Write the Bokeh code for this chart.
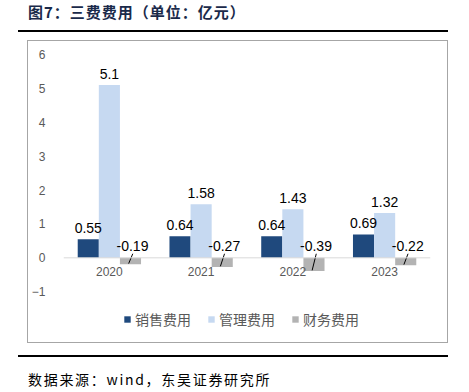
from bokeh.plotting import figure
from bokeh.models import (ColumnDataSource, Range1d, Legend, LegendItem,
                          Div, LabelSet, FixedTicker, Span)
from bokeh.transform import dodge
from bokeh.layouts import column
from bokeh.embed import file_html
from bokeh.resources import INLINE
from bokeh.core.properties import value

# ---- data ----
years = ["2020", "2021", "2022", "2023"]
sales = [0.55, 0.64, 0.64, 0.69]        # 销售费用
admin = [5.1, 1.58, 1.43, 1.32]         # 管理费用
finance = [-0.19, -0.27, -0.39, -0.22]  # 财务费用
series_names = ["销售费用", "管理费用", "财务费用"]
y_ticks = [-1, 0, 1, 2, 3, 4, 5, 6]
title_text = "图7：三费费用（单位：亿元）"
source_text = "数据来源：wind，东吴证券研究所"

colors = ["#1F497D", "#C6D9F1", "#B3B3B3"]
W = 0.23

src = ColumnDataSource(dict(
    years=years, sales=sales, admin=admin, finance=finance,
    sales_lbl=[str(v) for v in sales],
    admin_lbl=[str(v) for v in admin],
    fin_lbl=[str(v) for v in finance],
    fin_y=[max(v, 0) for v in finance],
    base=[0 for v in finance],
    lead_top=[0.12 for v in finance],
    lead_bot=[v + 0.02 for v in finance],
))

p = figure(width=419, height=301, x_range=years,
           y_range=Range1d(-2.44, 6), output_backend="svg", toolbar_location=None,
           min_border_left=34, min_border_right=17, min_border_top=13, min_border_bottom=2,
           outline_line_color=None)
p.title.visible = False

r1 = p.vbar(x=dodge("years", -W, range=p.x_range), top="sales", width=W, source=src,
            fill_color=colors[0], line_color=None)
r2 = p.vbar(x=dodge("years", 0, range=p.x_range), top="admin", width=W, source=src,
            fill_color=colors[1], line_color=None)
r3 = p.vbar(x=dodge("years", W, range=p.x_range), top="finance", width=W, source=src,
            fill_color=colors[2], line_color=None)

p.add_layout(Span(location=0, dimension="width", line_color="#D9D9D9", line_width=1))

p.segment(x0=dodge("years", W + 0.025, range=p.x_range), y0="lead_top",
          x1=dodge("years", W - 0.02, range=p.x_range), y1="lead_bot",
          source=src, line_color="black", line_width=1)

lbl_kw = dict(text_font=value("Liberation Sans"), text_font_size="14px", text_color="black",
              text_align="center", text_baseline="bottom", source=src)
p.add_layout(LabelSet(x=dodge("years", -W, range=p.x_range), y="sales", text="sales_lbl",
                      y_offset=6, **lbl_kw))
p.add_layout(LabelSet(x=dodge("years", 0, range=p.x_range), y="admin", text="admin_lbl",
                      y_offset=6, **lbl_kw))
p.add_layout(LabelSet(x=dodge("years", W, range=p.x_range), y="fin_y", text="fin_lbl",
                      y_offset=7, x_offset=2, **lbl_kw))

# category labels under the zero line
p.add_layout(LabelSet(x="years", y="base", text="years", y_offset=-9, source=src,
                      text_font=value("Liberation Sans"), text_font_size="12px",
                      text_color="#595959", text_align="center", text_baseline="top"))

p.grid.visible = False
p.xaxis.visible = False
p.yaxis.ticker = FixedTicker(ticks=y_ticks)
p.yaxis.axis_line_color = None
p.yaxis.major_tick_line_color = None
p.yaxis.minor_tick_line_color = None
p.yaxis.major_label_standoff = 12
p.yaxis.major_label_text_font = "Liberation Sans"
p.yaxis.major_label_text_font_size = "12px"
p.yaxis.major_label_text_color = "#595959"

legend = Legend(items=[LegendItem(label=series_names[0], renderers=[r1]),
                       LegendItem(label=series_names[1], renderers=[r2]),
                       LegendItem(label=series_names[2], renderers=[r3])],
                orientation="horizontal", location=(60, 11),
                label_text_font="Noto Sans CJK SC", label_text_font_size="14px",
                label_text_color="#595959", glyph_width=8, glyph_height=8,
                label_standoff=4, spacing=16, padding=0, margin=0,
                label_height=14, border_line_color=None, background_fill_alpha=0)
p.add_layout(legend, "center")

title_div = Div(text=f'<div style="font-family:\'Noto Sans CJK SC\';font-weight:bold;'
                     f'font-size:15px;letter-spacing:1px;color:#1A2A4A;line-height:16px;'
                     f'padding-left:10px;height:28px;border-bottom:2px solid black;'
                     f'width:430px;">{title_text}</div>',
                width=440, height=32, margin=(4, 0, 0, 18))
box = column(p, margin=(4, 0, 0, 27), styles={"border": "1px solid #A6A6A6"})
foot_div = Div(text=f'<div style="font-family:\'Noto Sans CJK SC\';'
                    f'font-size:14px;letter-spacing:1.7px;color:#000;line-height:16px;'
                    f'padding-left:10px;padding-top:14px;border-top:2px solid black;'
                    f'width:430px;">{source_text}</div>',
               width=440, height=32, margin=(12, 0, 0, 18))

layout = column(title_div, box, foot_div)
open("out.html", "w").write(file_html(layout, INLINE))
